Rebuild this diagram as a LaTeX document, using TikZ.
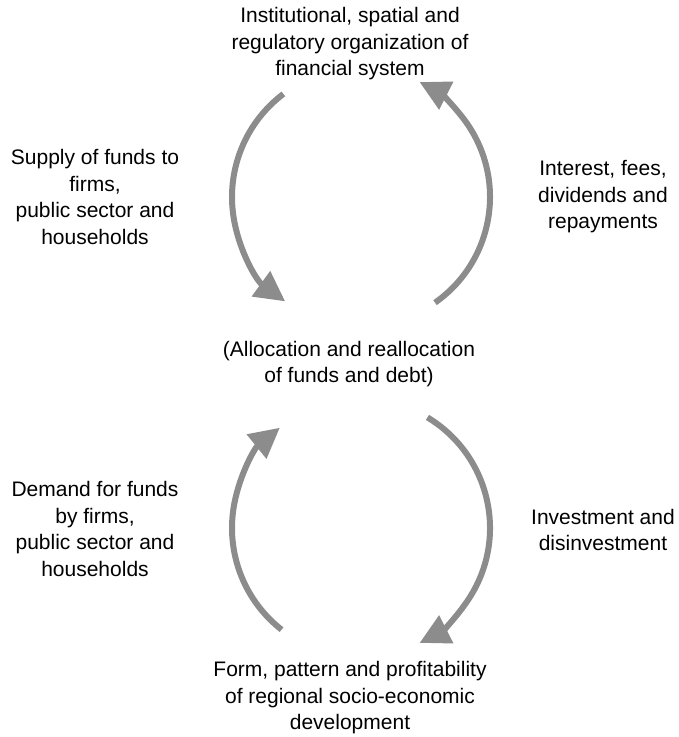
\documentclass[tikz,border=0pt]{standalone}
\usepackage{fontspec}
\setmainfont{Liberation Sans}
\usepackage{tikz}
\usetikzlibrary{arrows.meta}
\definecolor{cyc}{RGB}{140,140,140}

\begin{document}
\begin{tikzpicture}[x=1pt,y=1pt,
  lbl/.style={align=center,font=\fontsize{21}{26.5}\selectfont,inner sep=0pt},
  cyc/.style={draw=cyc,line width=6pt,-{Triangle[length=30pt,width=30pt]}}]
\useasboundingbox (0,0) rectangle (679,737);
\coordinate (ctop) at (361,540);
\coordinate (cbot) at (361,209);
\node [lbl] (fin) at (350,693) {Institutional, spatial and\\regulatory organization of\\financial system};
\node [lbl] (supply) at (95,540) {Supply of funds to\\firms,\\public sector and\\households};
\node [lbl] (interest) at (603,540) {Interest, fees,\\dividends and\\repayments};
\node [lbl] (alloc) at (349,373) {(Allocation and reallocation\\of funds and debt)};
\node [lbl] (demand) at (95,208) {Demand for funds\\by firms,\\public sector and\\households};
\node [lbl] (invest) at (603,207) {Investment and\\disinvestment};
\node [lbl] (dev) at (350,39) {Form, pattern and profitability\\of regional socio-economic\\development};
\draw [cyc] ([shift={(127:129)}]ctop) arc [start angle=127,end angle=234,radius=129];
\draw [cyc] ([shift={(-55:129)}]ctop) arc [start angle=-55,end angle=63,radius=129];
\draw [cyc] ([shift={(232:129)}]cbot) arc [start angle=232,end angle=129,radius=129];
\draw [cyc] ([shift={(59:129)}]cbot) arc [start angle=59,end angle=-63,radius=129];
\end{tikzpicture}
\end{document}
